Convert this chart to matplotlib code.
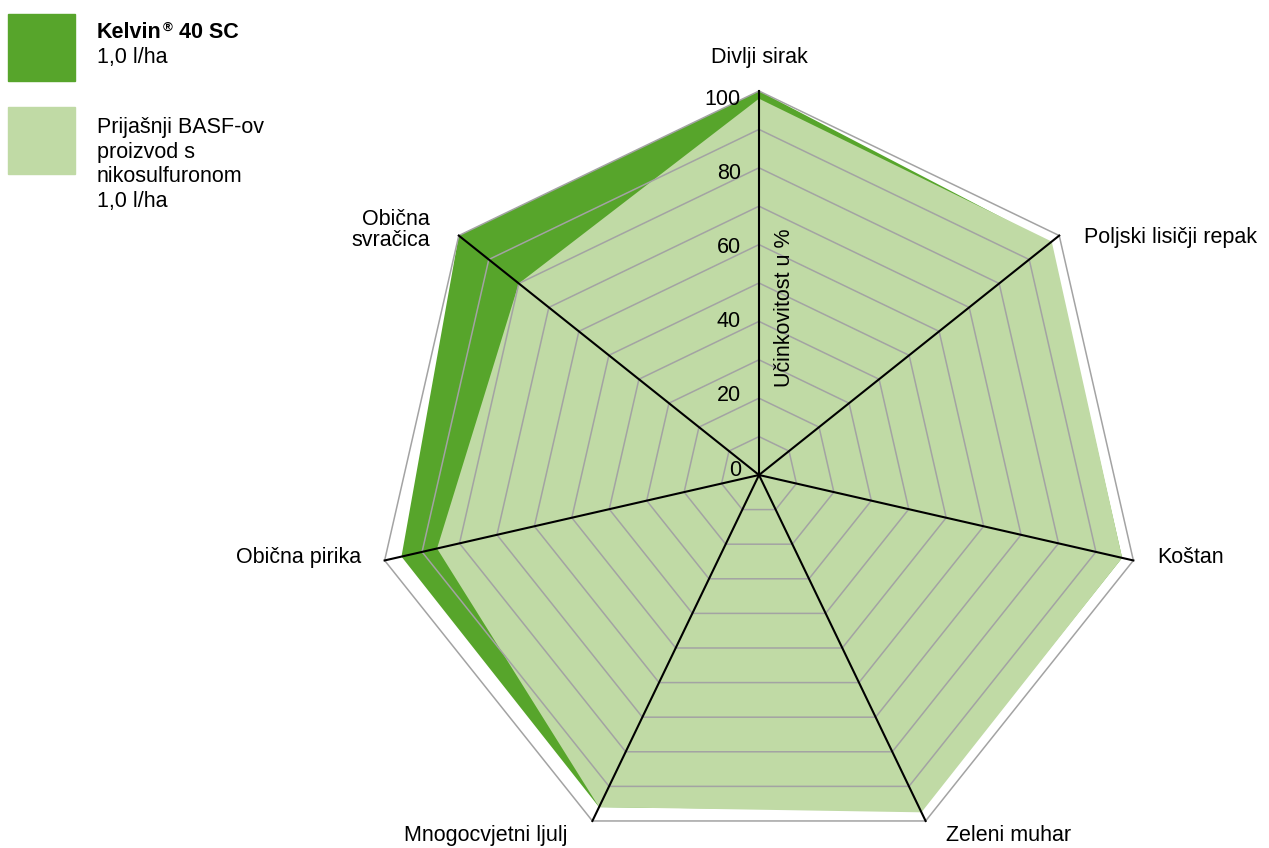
import numpy as np
import matplotlib.pyplot as plt

plt.rcParams['font.family'] = ['Liberation Sans', 'DejaVu Sans']

# weeds (axes of the radar), clockwise from the top
categories = ['Divlji sirak', 'Poljski lisičji repak', 'Koštan', 'Zeleni muhar',
              'Mnogocvjetni ljulj', 'Obična pirika', 'Obična\nsvračica']
kelvin = [100, 97, 97, 97, 96, 95.5, 100]
prior = [98, 97.5, 97, 97.5, 96, 86, 80]
r_ticks = [0, 20, 40, 60, 80, 100]
rings = [10, 20, 30, 40, 50, 60, 70, 80, 90, 100]

dark = '#57A52B'
light = '#C0DAA5'
grey = '#A3A3A3'
fs = 15.5

n = len(categories)
angles = np.linspace(0, 2 * np.pi, n, endpoint=False)
ang_c = np.append(angles, angles[0])

fig = plt.figure(figsize=(12.69, 8.48), dpi=100)
ax = fig.add_axes([375 / 1269, -11 / 848, 768 / 1269, 768 / 848], projection='polar')
ax.set_theta_offset(np.pi / 2)
ax.set_theta_direction(-1)
ax.set_ylim(0, 100)
ax.set_xticks([])
ax.set_yticks([])
ax.grid(False)
ax.spines['polar'].set_visible(False)
ax.patch.set_visible(False)

# filled areas, Kelvin first so the older product sits on top
ax.fill(ang_c, np.append(kelvin, kelvin[0]), color=dark, lw=0, zorder=1)
ax.fill(ang_c, np.append(prior, prior[0]), color=light, lw=0, zorder=2)

# polygon grid
for r in rings:
    ax.plot(ang_c, [r] * (n + 1), color=grey, lw=1.1, zorder=3, clip_on=False)
for a in angles:
    ax.plot([a, a], [0, 100], color='black', lw=1.5, zorder=4, clip_on=False)

# category labels, offsets in pixels from the 100 vertex
offsets = [(0, 33, 'center'), (25, -2, 'left'), (24, 3, 'left'), (20, -15, 'left'),
           (-25, -15, 'right'), (-24, 3, 'right'), (-29, 6, 'right')]
for a, lab, (dx, dy, ha) in zip(angles, categories, offsets):
    ax.annotate(lab, xy=(a, 100), xytext=(dx, dy), textcoords='offset pixels',
                ha=ha, va='center', fontsize=fs, linespacing=1.0,
                multialignment=ha, annotation_clip=False)

# radial tick labels left of the top spoke
for v in r_ticks:
    ax.annotate(str(v), xy=(0, v * 0.965 + 1.3), xytext=(-18, 0), textcoords='offset pixels',
                ha='right', va='center', fontsize=fs, annotation_clip=False)

ax.annotate('Učinkovitost u %', xy=(0, 43.5), xytext=(26, 0), textcoords='offset pixels',
            ha='center', va='center', rotation=90, fontsize=fs)

# legend
W, H = 1269, 848
fig.patches.append(plt.Rectangle((8 / W, 1 - 81 / H), 67 / W, 67 / H, color=dark,
                                 transform=fig.transFigure))
fig.patches.append(plt.Rectangle((8 / W, 1 - 174 / H), 67 / W, 67 / H, color=light,
                                 transform=fig.transFigure))

t1 = fig.text(97 / W, 1 - 33 / H, 'Kelvin', fontsize=fs, fontweight='bold', va='center')
t2 = ax.annotate('®', xy=(1, 1), xycoords=t1, xytext=(1, 1), textcoords='offset pixels',
                 ha='left', va='top', fontsize=9.5, fontweight='bold')
ax.annotate(' 40 SC', xy=(1, 0), xycoords=(t2, t1), ha='left', va='bottom',
            fontsize=fs, fontweight='bold')
fig.text(97 / W, 1 - 57 / H, '1,0 l/ha', fontsize=fs, va='center')

legend_lines = ['Prijašnji BASF-ov', 'proizvod s', 'nikosulfuronom', '1,0 l/ha']
for i, s in enumerate(legend_lines):
    fig.text(97 / W, 1 - (128 + 24.5 * i) / H, s, fontsize=fs, va='center')

fig.savefig('out.png', dpi=100)
